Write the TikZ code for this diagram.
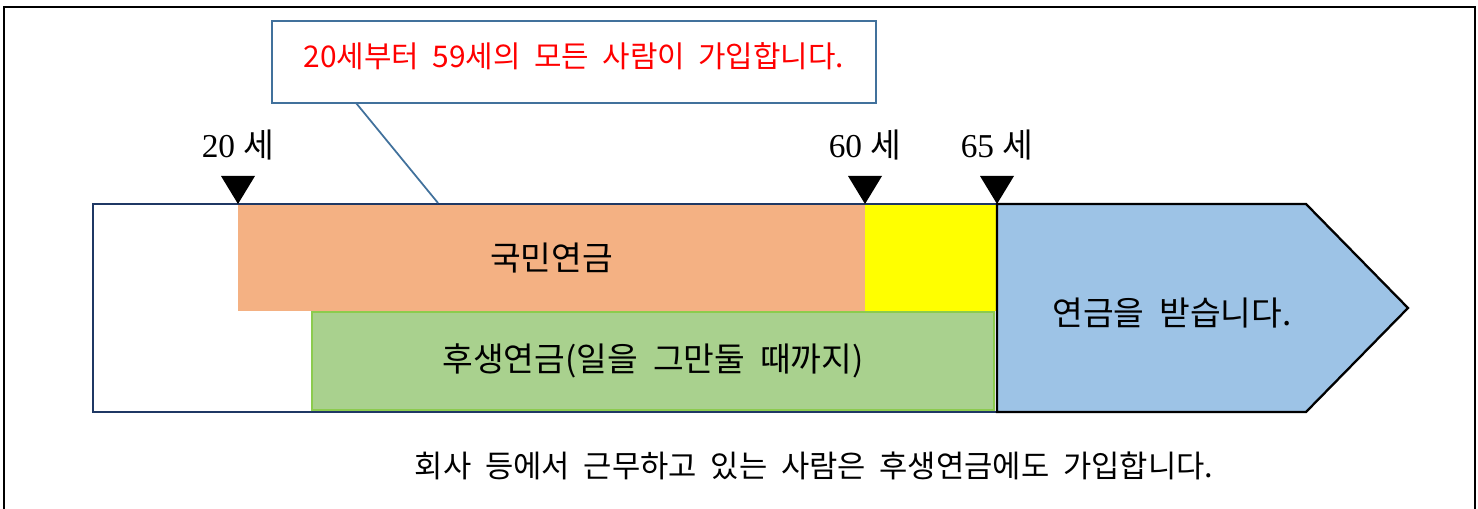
\documentclass[tikz,border=0pt]{standalone}
\usepackage{fontspec}
\setmainfont{Liberation Serif}
\newfontfamily\krfont{Noto Sans CJK KR}
\usetikzlibrary{positioning}

\definecolor{navyline}{HTML}{1F3864}
\definecolor{calloutline}{HTML}{41719C}
\definecolor{kokuminfill}{HTML}{F4B183}
\definecolor{gapfill}{RGB}{255,255,0}
\definecolor{koseifill}{HTML}{A9D18E}
\definecolor{koseiline}{HTML}{8CCB4E}
\definecolor{receivefill}{HTML}{9DC3E6}

\tikzset{
  bar/.style={rectangle, inner sep=0pt, outer sep=0pt},
  bigtext/.style={font=\krfont\fontsize{19}{22}\selectfont},
  agelabel/.style={font=\fontsize{19}{22}\selectfont},
}

\begin{document}
\begin{tikzpicture}[x=0.02cm,y=-0.02cm]
  \useasboundingbox (0,0) rectangle (1478,509);

  % outer frame
  \draw[line width=1.6pt] (4,515) -- (4,7) -- (1475,7) -- (1475,515);

  % callout
  \node[bar, draw=calloutline, line width=1pt, fill=white,
        minimum width=12.08cm, minimum height=1.64cm] (callout) at (574,62) {};
  \node[text=red, font=\krfont\fontsize{17}{20}\selectfont] (callouttext) at (574,56)
    {20세부터\ \ 59세의\ \ 모든\ \ 사람이\ \ 가입합니다.};

  % time line
  \node[bar, fill=white, minimum width=18.08cm, minimum height=4.16cm] (span) at (545,308) {};
  \node[bar, fill=kokuminfill, minimum width=12.54cm, minimum height=2.12cm,
        bigtext] (kokumin) at (551.5,258) {국민연금};
  \node[bar, fill=gapfill, minimum width=2.62cm, minimum height=2.12cm] (gap) at (930.5,258) {};
  \node[bar, fill=koseifill, draw=koseiline, line width=1.1pt,
        minimum width=13.64cm, minimum height=1.96cm,
        bigtext] (kosei) at (653,361) {후생연금(일을\ \ 그만둘\ \ 때까지)};
  \draw[navyline, line width=1.2pt] (span.north west) rectangle (span.south east);

  % receiving
  \draw[line width=1.3pt, fill=receivefill] (997,204) -- (1306,204) -- (1408,308)
    -- (1306,412) -- (997,412) -- cycle;
  \node[bigtext] (receive) at (1172,313) {연금을\ \ 받습니다.};

  % age marks
  \foreach \x/\age in {238/20,865/60,997/65}{
    \fill (\x,204) -- ++(-17,-28) -- ++(34,0) -- cycle;
    \node[agelabel] (age\age) at (\x,145) {\age\ {\krfont 세}};
  }

  \coordinate (calltip) at (438,203);
  \draw[calloutline, line width=1pt] ([xshift=1.68cm]callout.south west) -- (calltip);

  \node[font=\krfont\fontsize{17.5}{20}\selectfont] (note) at (814,466)
    {회사\ \ 등에서\ \ 근무하고\ \ 있는\ \ 사람은\ \ 후생연금에도\ \ 가입합니다.};
\end{tikzpicture}
\end{document}
